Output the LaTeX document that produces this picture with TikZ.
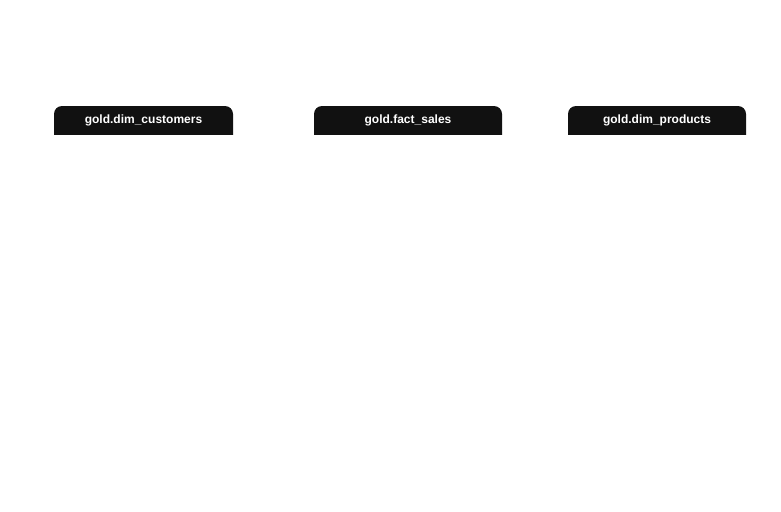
\documentclass[tikz,border=0pt]{standalone}
\usepackage{fontspec}
\setmainfont{Liberation Sans}
\usepackage{xcolor}
\usetikzlibrary{positioning}
\definecolor{tabblack}{HTML}{111111}

\begin{document}
\begin{tikzpicture}[x=0.75pt, y=-0.75pt,
    tab/.style={text=white, font=\fontsize{9}{10}\selectfont\bfseries,
        minimum height=21pt, inner sep=0pt,
        path picture={\fill[tabblack, rounded corners=6pt]
            ([yshift=-10pt]path picture bounding box.south west) rectangle
            (path picture bounding box.north east);}}]
                        \useasboundingbox (0, 0) rectangle (781, 511);
                        \node[tab, minimum width=134.25pt] (cust) at (143.5, 120) {gold.dim\_customers};
                        \node[tab, minimum width=141pt] (fact) at (408, 120) {gold.fact\_sales};
                        \node[tab, minimum width=133.5pt] (prod) at (657, 120) {gold.dim\_products};
                    \end{tikzpicture}
\end{document}
